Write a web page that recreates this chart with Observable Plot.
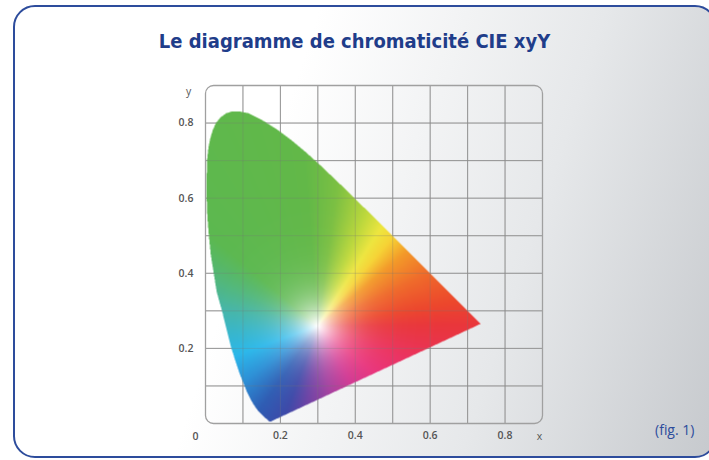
<!DOCTYPE html>
<html><head><meta charset="utf-8">
<script src="https://cdn.jsdelivr.net/npm/d3@7"></script>
<script src="https://cdn.jsdelivr.net/npm/@observablehq/plot@0.6"></script>
<style>
html,body{margin:0;padding:0;width:709px;height:460px;overflow:hidden;background:#fff;}
#card{position:absolute;left:13px;top:5px;width:700px;height:449px;border:2.5px solid #2d4c9c;border-radius:22px;
  background:linear-gradient(108deg,#ffffff 0%,#ffffff 36%,#e6e8ea 70%,#c6c9cd 100%);}
#title{position:absolute;left:0;width:709px;top:29px;text-align:center;font-family:"DejaVu Sans Condensed","DejaVu Sans";font-stretch:condensed;font-weight:bold;font-size:20px;color:#1f3d8a;}
#fig{position:absolute;left:655px;top:420px;font-family:"Open Sans";font-size:14px;color:#2d4c9c;}
#chart{position:absolute;left:0;top:60px;}
</style></head>
<body>
<div id="card"></div>
<div id="title">Le diagramme de chromaticité CIE xyY</div>
<div id="fig">(fig. 1)</div>
<div id="chart"></div>
<script>
// Spectral locus (horseshoe), from the blue end round to the red corner
const locusX = [0.1733,0.1714,0.1690,0.1644,0.1566,0.1510,0.1440,0.1355,0.1241,0.1096,0.0913,0.0687,0.0454,0.0300,0.0220,0.0140,0.0090,0.0050,0.0030,0.0030,0.0040,0.0080,0.0130,0.0200,0.0280,0.0400,0.0550,0.0710,0.0900,0.1142,0.1547,0.1929,0.2296,0.2658,0.3016,0.3731,0.4441,0.5125,0.5752,0.6270,0.6658,0.6915,0.7079,0.7347];
const locusY = [0.0048,0.0051,0.0069,0.0109,0.0177,0.0227,0.0297,0.0399,0.0578,0.0868,0.1327,0.2007,0.2950,0.3500,0.4000,0.4500,0.5000,0.5500,0.6000,0.6500,0.7000,0.7350,0.7600,0.7830,0.8000,0.8150,0.8260,0.8310,0.8310,0.8262,0.8059,0.7816,0.7543,0.7243,0.6923,0.6245,0.5547,0.4866,0.4242,0.3725,0.3340,0.3083,0.2920,0.2653];
const gridX = [0.1,0.2,0.3,0.4,0.5,0.6,0.7,0.8];
const gridY = [0.1,0.2,0.3,0.4,0.5,0.6,0.7,0.8];
const xTicks = [0.2,0.4,0.6,0.8];
const yTicks = [0.2,0.4,0.6,0.8];
const whitePoint = [0.30,0.26];
const hueAngles = [0,10,25,40,50,57,67,82,95,140,155,170,185,200,217,235,250,262,280,300,320,340,360];
const hueColors = ["#e9363c","#ec482c","#ef6a2a","#f39a28","#f6d435","#eee63e","#bcd83c","#7cc043","#62b848","#5cb850","#52b77a","#45b5a8","#35b5cc","#27b6ea","#2a8fd6","#2d5cb3","#3c48a8","#6a3fa3","#a23a9c","#d0318f","#e8307a","#ea3160","#e9363c"];

const poly = locusX.map((x, i) => [x, locusY[i]]);
const hue = d3.scaleLinear().domain(hueAngles).range(hueColors).interpolate(d3.interpolateRgb);
function colorAt(x, y) {
  const dx = x - whitePoint[0], dy = y - whitePoint[1];
  let a = Math.atan2(dy, dx) * 180 / Math.PI; if (a < 0) a += 360;
  const d = Math.hypot(dx, dy);
  const s = 1 - Math.exp(-Math.pow(d / 0.07, 1.2));
  const c = d3.rgb(hue(a));
  return d3.rgb(255 + (c.r - 255) * s, 255 + (c.g - 255) * s, 255 + (c.b - 255) * s).formatHex();
}
const inside = (x, y) => d3.polygonContains(poly, [x, y]) ? 1 : 0;

const chart = Plot.plot({
  width: 709, height: 390,
  marginLeft: 205, marginRight: 167, marginTop: 25, marginBottom: 27,
  x: {domain: [0, 0.9], axis: null},
  y: {domain: [0, 0.9], axis: null},
  color: {type: "identity"},
  opacity: {type: "identity"},
  style: {background: "transparent", fontFamily: "Open Sans", fontSize: "10.5px", color: "#444"},
  marks: [
    Plot.ruleX(gridX, {y1: 0, y2: 0.9, stroke: "#a0a0a0", strokeWidth: 1}),
    Plot.ruleY(gridY, {x1: 0, x2: 0.9, stroke: "#a0a0a0", strokeWidth: 1}),
    Plot.raster({x1: 0, y1: 0, x2: 0.9, y2: 0.9, fill: colorAt, fillOpacity: inside, pixelSize: 0.5}),
    Plot.ruleX(gridX, {y1: 0, y2: 0.9, stroke: "#777", strokeOpacity: 0.28}),
    Plot.ruleY(gridY, {x1: 0, x2: 0.9, stroke: "#777", strokeOpacity: 0.28}),
    Plot.frame({rx: 8, stroke: "#a0a0a0", strokeWidth: 1.3}),
    Plot.axisX(xTicks, {tickSize: 0, tickPadding: 8, label: null, fontWeight: 600, fill: "#555"}),
    Plot.axisY(yTicks, {tickSize: 0, tickPadding: 12, label: null, fontWeight: 600, fill: "#555"}),
    Plot.text(["0"], {x: 0, y: 0, dx: -10, dy: 13, fontWeight: 600, fill: "#555"}),
    Plot.text(["x"], {x: 0.9, y: 0, dx: -3, dy: 13, fill: "#555"}),
    Plot.text(["y"], {x: 0, y: 0.9, dx: -17, dy: 6, fill: "#555"})
  ]
});
document.getElementById("chart").append(chart);
</script>
</body></html>
